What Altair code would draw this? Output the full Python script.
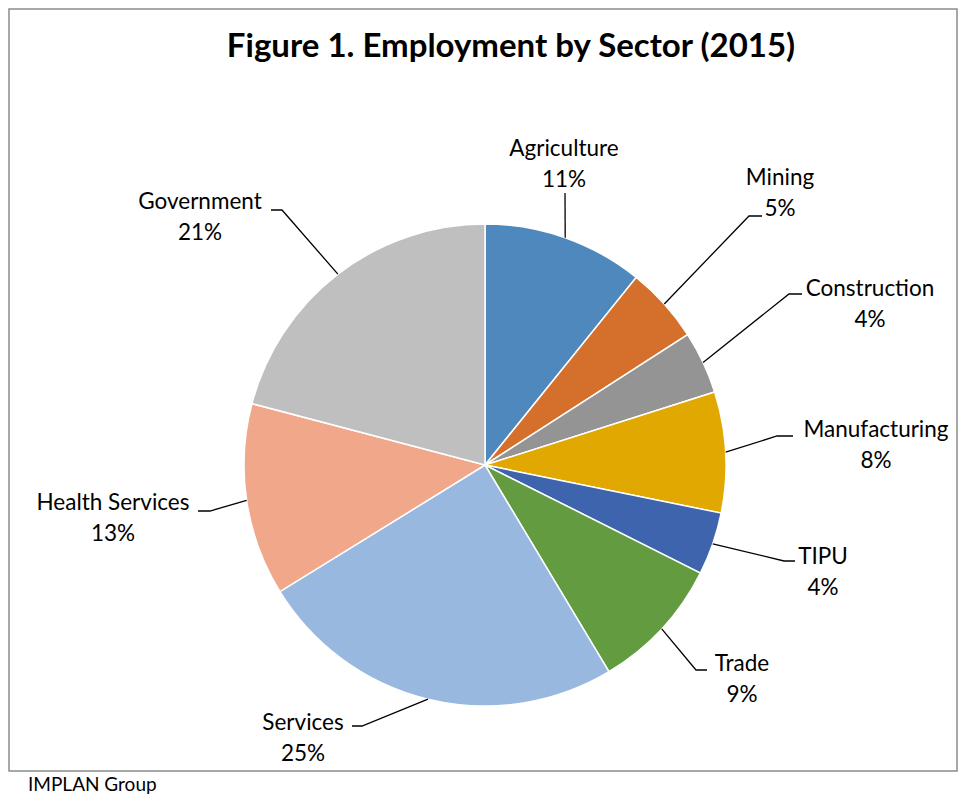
import math
import altair as alt
import pandas as pd

# ---------------- data ----------------
sectors = ["Agriculture", "Mining", "Construction", "Manufacturing", "TIPU",
           "Trade", "Services", "Health Services", "Government"]
shares = [10.8, 5.1, 4.2, 8.1, 4.2, 9.0, 24.8, 12.9, 20.9]
pct_labels = ["11%", "5%", "4%", "8%", "4%", "9%", "25%", "13%", "21%"]
colors = ["#4F88BC", "#D4702B", "#949494", "#E0A800", "#3D64AC",
          "#629B40", "#98B8DF", "#F0A78A", "#BFBFBF"]

title_text = "Figure 1. Employment by Sector (2015)"
source_text = "IMPLAN Group"

# ---------------- layout (page pixels) ----------------
CX, CY, R = 485, 465, 241
# label block centre, offset from pie centre
label_dx = [79, 295, 385, 391, 338, 257, -182, -372, -285]
label_dy = [-301, -272, -161, -20, 107, 214, 273, 53, -248]
# leader-line elbow, offset from pie centre, and horizontal tail length
elbow_dx = [80, 264, 304, 292, 299, 211, -123, -275, -203]
elbow_dy = [-272, -249, -171, -29, 96, 205, 261, 46, -255]
tail = [0, 13, 13, 16, 11, 11, -10, -12, -11]

X0, X1, Y0, Y1 = 9, 957, 9, 771  # frame in page px
W, H = X1 - X0, Y1 - Y0

total = sum(shares)
pie = pd.DataFrame({
    "sector": sectors, "share": shares, "idx": list(range(len(sectors))),
    "cx": [CX] * len(sectors), "cy": [CY] * len(sectors),
})

lines = []
texts = []
cum = 0.0
for i, (s, v) in enumerate(zip(sectors, shares)):
    mid = (cum + v / 2) / total * 2 * math.pi
    cum += v
    ex, ey = CX + R * math.sin(mid), CY - R * math.cos(mid)
    bx, by = CX + elbow_dx[i], CY + elbow_dy[i]
    lines += [
        {"sector": s, "step": 0, "x": ex, "y": ey},
        {"sector": s, "step": 1, "x": bx, "y": by},
        {"sector": s, "step": 2, "x": bx + tail[i], "y": by},
    ]
    lx, ly = CX + label_dx[i], CY + label_dy[i]
    texts.append({"text": s, "x": lx, "y": ly - 15.5})
    texts.append({"text": pct_labels[i], "x": lx, "y": ly + 15.5})
lines = pd.DataFrame(lines)
texts = pd.DataFrame(texts)

xs = alt.Scale(domain=[X0, X1], range=[0, W])
ys = alt.Scale(domain=[Y0, Y1], range=[0, H])

arcs = alt.Chart(pie).mark_arc(outerRadius=R, stroke="white", strokeWidth=1.5).encode(
    x=alt.X("cx:Q", scale=xs, axis=None),
    y=alt.Y("cy:Q", scale=ys, axis=None),
    theta=alt.Theta("share:Q", stack=True),
    order=alt.Order("idx:Q"),
    color=alt.Color("sector:N", scale=alt.Scale(domain=sectors, range=colors), legend=None),
)

leaders = alt.Chart(lines).mark_line(color="black", strokeWidth=1.3).encode(
    x=alt.X("x:Q", scale=xs, axis=None),
    y=alt.Y("y:Q", scale=ys, axis=None),
    detail="sector:N",
    order="step:Q",
)

labels = alt.Chart(texts).mark_text(font="Lato", fontSize=22.5, color="black",
                                    align="center", baseline="middle").encode(
    x=alt.X("x:Q", scale=xs, axis=None),
    y=alt.Y("y:Q", scale=ys, axis=None),
    text="text:N",
)

title = alt.Chart(pd.DataFrame({"t": [title_text], "x": [511], "y": [47]})).mark_text(
    font="Lato", fontSize=33, fontWeight="bold", color="black",
    align="center", baseline="middle").encode(
    x=alt.X("x:Q", scale=xs, axis=None),
    y=alt.Y("y:Q", scale=ys, axis=None),
    text="t:N",
)

source = alt.Chart(pd.DataFrame({"t": [source_text], "x": [28], "y": [785]})).mark_text(
    font="Lato", fontSize=19, color="black", align="left", baseline="middle").encode(
    x=alt.X("x:Q", scale=xs, axis=None),
    y=alt.Y("y:Q", scale=ys, axis=None),
    text="t:N",
)

chart = alt.layer(arcs, leaders, labels, title, source).properties(
    width=W, height=H,
    autosize=alt.AutoSizeParams(type="none"),
    padding={"left": 1, "top": 1, "right": 1, "bottom": 23},
).configure_view(stroke="#8C8C8C", strokeWidth=1.5)

chart.save("out.html", embed_options={"renderer": "svg", "actions": False})
